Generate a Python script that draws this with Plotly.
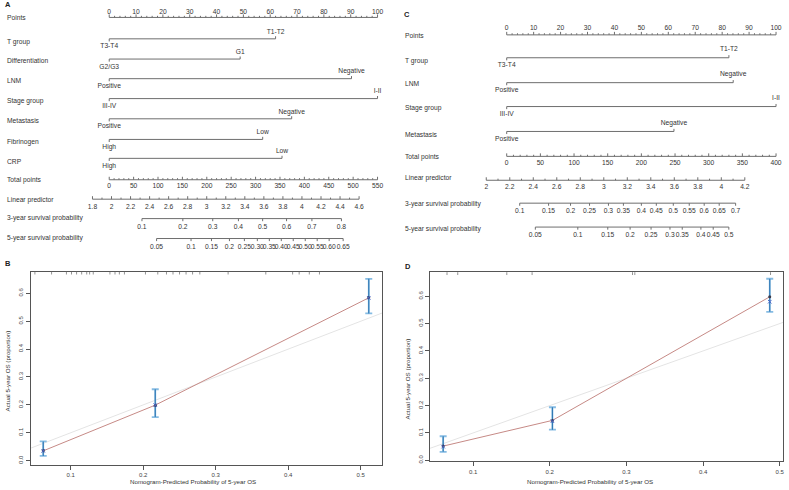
import plotly.graph_objects as go

W, H = 789, 490
FONT = "Liberation Sans, Arial, Helvetica, sans-serif"
TXT = "#333333"
LINE = "#6e6e6e"

# ---------------- data: nomogram A ----------------
A_point_ticks = list(range(0, 101, 10))
A_var_names = ["T group", "Differentiation", "LNM", "Stage group", "Metastasis", "Fibrinogen", "CRP"]
A_low_levels = ["T3-T4", "G2/G3", "Positive", "III-IV", "Positive", "High", "High"]
A_high_levels = ["T1-T2", "G1", "Negative", "I-II", "Negative", "Low", "Low"]
A_high_points = [62.0, 48.8, 90.3, 100.0, 68.0, 57.2, 64.4]
A_total_ticks = list(range(0, 551, 50))
A_lp_ticks = [1.8, 2.0, 2.2, 2.4, 2.6, 2.8, 3.0, 3.2, 3.4, 3.6, 3.8, 4.0, 4.2, 4.4, 4.6]
A_lp_labels = ["1.8", "2", "2.2", "2.4", "2.6", "2.8", "3", "3.2", "3.4", "3.6", "3.8", "4", "4.2", "4.4", "4.6"]
A_surv3_labels = ["0.1", "0.2", "0.3", "0.4", "0.5", "0.6", "0.7", "0.8"]
A_surv3_total = [67.1, 150.9, 212.2, 264.8, 314.5, 363.5, 415.5, 476.0]
A_surv5_labels = ["0.05", "0.1", "0.15", "0.2", "0.25", "0.30", "0.35", "0.40", "0.45", "0.50", "0.55", "0.60", "0.65"]
A_surv5_total = [97.1, 167.7, 209.6, 246.4, 277.0, 303.6, 328.2, 352.7, 377.2, 401.8, 426.3, 450.8, 479.5]

# ---------------- data: nomogram C ----------------
C_point_ticks = list(range(0, 101, 10))
C_var_names = ["T group", "LNM", "Stage group", "Metastasis"]
C_low_levels = ["T3-T4", "Positive", "III-IV", "Positive"]
C_high_levels = ["T1-T2", "Negative", "I-II", "Negative"]
C_high_points = [82.5, 84.1, 100.0, 62.1]
C_total_ticks = list(range(0, 401, 50))
C_lp_ticks = [2.0, 2.2, 2.4, 2.6, 2.8, 3.0, 3.2, 3.4, 3.6, 3.8, 4.0, 4.2]
C_lp_labels = ["2", "2.2", "2.4", "2.6", "2.8", "3", "3.2", "3.4", "3.6", "3.8", "4", "4.2"]
C_surv3_labels = ["0.1", "0.15", "0.2", "0.25", "0.3", "0.35", "0.4", "0.45", "0.5", "0.55", "0.6", "0.65", "0.7"]
C_surv3_total = [19.3, 62.2, 94.8, 123.0, 151.1, 173.3, 200.0, 222.2, 247.4, 271.1, 293.3, 315.6, 340.0]
C_surv5_labels = ["0.05", "0.1", "0.15", "0.2", "0.25", "0.3", "0.35", "0.4", "0.45", "0.5"]
C_surv5_total = [42.5, 105.6, 150.1, 183.3, 214.4, 242.5, 260.7, 288.4, 306.7, 329.9]

# ---------------- data: calibration B ----------------
B_pred = [0.062, 0.2165, 0.511]
B_obs = [0.035, 0.199, 0.584]
B_corr = [0.035, 0.199, 0.584]
B_lo = [0.017, 0.156, 0.528]
B_hi = [0.069, 0.256, 0.652]
B_rug = [0.0505, 0.0735, 0.094, 0.101, 0.108, 0.115, 0.122, 0.126, 0.131, 0.154, 0.161,
         0.167, 0.174, 0.203, 0.220, 0.232, 0.241, 0.250, 0.259, 0.268, 0.278, 0.317,
         0.369, 0.406, 0.415, 0.429, 0.443]

# ---------------- data: calibration D ----------------
D_pred = [0.061, 0.2035, 0.487]
D_obs = [0.052, 0.146, 0.598]
D_corr = [0.050, 0.143, 0.580]
D_lo = [0.031, 0.112, 0.543]
D_hi = [0.088, 0.194, 0.664]
D_rug = [0.066, 0.080, 0.144, 0.177, 0.308, 0.311, 0.488]

cal_xticks = [0.1, 0.2, 0.3, 0.4, 0.5]
cal_yticks = [0.0, 0.1, 0.2, 0.3, 0.4, 0.5, 0.6]


# ---------------- helpers ----------------
def xp(px):
    return px / W


def yp(py):
    return 1 - py / H


def rng(v0, p0, v1, p1, d0, d1):
    s = (v1 - v0) / (p1 - p0)
    return [v0 + (d0 - p0) * s, v0 + (d1 - p0) * s]


fig = go.Figure()
annotations = []


def segs(x0s, x1s, y0s, y1s, xa, ya, color=LINE, width=1):
    X, Y = [], []
    for a, b, c, d in zip(x0s, x1s, y0s, y1s):
        X += [a, b, None]
        Y += [c, d, None]
    fig.add_trace(go.Scatter(x=X, y=Y, mode="lines", xaxis=xa, yaxis=ya,
                             line=dict(color=color, width=width),
                             hoverinfo="skip", showlegend=False, cliponaxis=False))


def texts(xs, ys, tx, xa, ya, size=6.7, color=TXT, pos="middle center"):
    fig.add_trace(go.Scatter(x=xs, y=ys, text=tx, mode="text", textposition=pos,
                             textfont=dict(family=FONT, size=size, color=color),
                             xaxis=xa, yaxis=ya, hoverinfo="skip", showlegend=False,
                             cliponaxis=False))


def label(px, py, t, size=6.7, bold=False, angle=0, anchor="left"):
    annotations.append(dict(x=xp(px), y=yp(py), xref="paper", yref="paper", text=t,
                            showarrow=False, xanchor=anchor, yanchor="middle",
                            textangle=angle,
                            font=dict(family=FONT, size=size, color="#222222" if bold else TXT)))


def scale_axis(vals, minors, y, lab, lab_y, xa, ya, tick_dir, major_len=3.0, minor_len=1.6):
    lo, hi = min(vals + minors), max(vals + minors)
    segs([lo], [hi], [y], [y], xa, ya)
    segs(vals, vals, [y] * len(vals), [y + tick_dir * major_len] * len(vals), xa, ya)
    if minors:
        segs(minors, minors, [y] * len(minors), [y + tick_dir * minor_len] * len(minors), xa, ya)
    texts(vals, [lab_y] * len(vals), lab, xa, ya)


def nomogram(cfg):
    xa_p, xa_t, xa_l, ya = cfg["axes"]
    # Points
    pts = cfg["point_ticks"]
    minors = [v for v in range(0, 101, 2) if v % 10]
    scale_axis(pts, minors, cfg["points_y"], [str(v) for v in pts], cfg["points_lab_y"], xa_p, ya, -1)
    label(cfg["lab_x"], cfg["points_row_lab"], "Points")
    # variables
    for name, lo, hi, hp, ry, rl in zip(cfg["names"], cfg["low"], cfg["high"], cfg["hp"],
                                         cfg["rows"], cfg["row_labs"]):
        segs([0], [hp], [ry], [ry], xa_p, ya)
        segs([0, hp], [0, hp], [ry, ry], [ry + 2.6, ry - 2.6], xa_p, ya)
        texts([0], [ry + cfg["below"]], [lo], xa_p, ya)
        texts([hp], [ry - cfg["above"]], [hi], xa_p, ya)
        label(cfg["lab_x"], rl, name)
    # Total points
    tt = cfg["total_ticks"]
    step = tt[1] - tt[0]
    tmin = [v for v in range(tt[0], tt[-1] + 1, step // 5) if v % step]
    scale_axis(tt, tmin, cfg["total_y"], [str(v) for v in tt], cfg["total_lab_y"], xa_t, ya, -1)
    label(cfg["lab_x"], cfg["total_row_lab"], "Total points")
    # Linear predictor
    lp = cfg["lp_ticks"]
    lpm = [round((a + b) / 2, 3) for a, b in zip(lp[:-1], lp[1:])]
    scale_axis(lp, lpm, cfg["lp_y"], cfg["lp_labels"], cfg["lp_lab_y"], xa_l, ya, -1)
    label(cfg["lab_x"], cfg["lp_row_lab"], "Linear predictor")
    # survival axes
    scale_axis(cfg["s3_total"], [], cfg["s3_y"], cfg["s3_labels"], cfg["s3_lab_y"], xa_t, ya, 1, 2.6)
    label(cfg["lab_x"], cfg["s3_row_lab"], "3-year survival probability")
    scale_axis(cfg["s5_total"], [], cfg["s5_y"], cfg["s5_labels"], cfg["s5_lab_y"], xa_t, ya, 1, 2.6)
    label(cfg["lab_x"], cfg["s5_row_lab"], "5-year survival probability")


nomogram(dict(
    axes=("x3", "x5", "x6", "y3"), lab_x=5,
    point_ticks=A_point_ticks, points_y=17.5, points_lab_y=12, points_row_lab=18,
    names=A_var_names, low=A_low_levels, high=A_high_levels, hp=A_high_points,
    rows=[39, 59.3, 79, 99, 119.3, 140, 159], row_labs=[42, 61, 81, 101, 121, 143, 162],
    below=8, above=7,
    total_ticks=A_total_ticks, total_y=180.5, total_lab_y=187, total_row_lab=181,
    lp_ticks=A_lp_ticks, lp_labels=A_lp_labels, lp_y=200, lp_lab_y=208, lp_row_lab=201,
    s3_total=A_surv3_total, s3_labels=A_surv3_labels, s3_y=219.5, s3_lab_y=228, s3_row_lab=219,
    s5_total=A_surv5_total, s5_labels=A_surv5_labels, s5_y=239.5, s5_lab_y=248, s5_row_lab=239,
))

nomogram(dict(
    axes=("x4", "x7", "x8", "y4"), lab_x=404,
    point_ticks=C_point_ticks, points_y=35, points_lab_y=28.5, points_row_lab=36,
    names=C_var_names, low=C_low_levels, high=C_high_levels, hp=C_high_points,
    rows=[58, 83, 107, 132], row_labs=[61, 84, 108, 135],
    below=7.5, above=8,
    total_ticks=C_total_ticks, total_y=157, total_lab_y=164, total_row_lab=158,
    lp_ticks=C_lp_ticks, lp_labels=C_lp_labels, lp_y=181, lp_lab_y=188, lp_row_lab=179,
    s3_total=C_surv3_total, s3_labels=C_surv3_labels, s3_y=204, s3_lab_y=212, s3_row_lab=205,
    s5_total=C_surv5_total, s5_labels=C_surv5_labels, s5_y=228, s5_lab_y=236, s5_row_lab=230,
))


# ---------------- calibration plots ----------------
shapes = []


def calibration(pred, obs, corr, lo, hi, rug, xa, ya):
    fig.add_trace(go.Scatter(x=[0, 1], y=[0, 1], mode="lines", xaxis=xa, yaxis=ya,
                             line=dict(color="#e4e4e4", width=1), hoverinfo="skip", showlegend=False))
    fig.add_trace(go.Scatter(x=pred, y=obs, mode="lines", xaxis=xa, yaxis=ya,
                             line=dict(color="#c68a86", width=1), hoverinfo="skip", showlegend=False))
    up = [h - o for h, o in zip(hi, obs)]
    dn = [o - l for o, l in zip(obs, lo)]
    fig.add_trace(go.Scatter(x=pred, y=obs, mode="markers", xaxis=xa, yaxis=ya,
                             marker=dict(size=1, color="rgba(0,0,0,0)"),
                             error_y=dict(type="data", symmetric=False, array=up, arrayminus=dn,
                                          color="#86bce3", thickness=1.8, width=3.5),
                             hoverinfo="skip", showlegend=False))
    fig.add_trace(go.Scatter(x=pred, y=obs, mode="markers", xaxis=xa, yaxis=ya,
                             marker=dict(size=1, color="rgba(0,0,0,0)"),
                             error_y=dict(type="data", symmetric=False, array=up, arrayminus=dn,
                                          color="#2f77b3", thickness=1.1, width=0),
                             hoverinfo="skip", showlegend=False))
    fig.add_trace(go.Scatter(x=pred, y=obs, mode="markers", xaxis=xa, yaxis=ya,
                             marker=dict(size=3, color="#3a3a4a"), hoverinfo="skip", showlegend=False))
    fig.add_trace(go.Scatter(x=pred, y=corr, mode="markers", xaxis=xa, yaxis=ya,
                             marker=dict(size=3.5, symbol="x-thin-open", color="#4a66c8",
                                         line=dict(width=1, color="#4a66c8")),
                             hoverinfo="skip", showlegend=False))
    for r in rug:
        shapes.append(dict(type="line", xref=xa, yref=ya + " domain", x0=r, x1=r, y0=1, y1=0.985,
                           line=dict(color="#666666", width=0.7)))


calibration(B_pred, B_obs, B_corr, B_lo, B_hi, B_rug, "x", "y")
calibration(D_pred, D_obs, D_corr, D_lo, D_hi, D_rug, "x2", "y2")

# panel letters
label(3, 5, "<b>A</b>", size=7.5, bold=True)
label(403, 15, "<b>C</b>", size=7.5, bold=True)
label(3, 265, "<b>B</b>", size=7.5, bold=True)
label(404, 268, "<b>D</b>", size=7.5, bold=True)

# calibration axis titles
label(193.5, 483.3, "Nomogram-Predicted Probability of 5-year OS", size=6.2, anchor="center")
label(7, 372, "Actual 5-year OS (proportion)", size=6.2, angle=-90, anchor="center")
label(591, 483.3, "Nomogram-Predicted Probability of 5-year OS", size=6.2, anchor="center")
label(408, 380, "Actual 5-year OS (proportion)", size=6.2, angle=-90, anchor="center")

cal_axis_common = dict(showline=True, mirror=True, linecolor="#555555", linewidth=1,
                       ticks="outside", ticklen=4, tickcolor="#555555", tickwidth=1,
                       showgrid=False, zeroline=False, fixedrange=True,
                       tickfont=dict(family=FONT, size=6, color="#444444"))

hidden = dict(visible=False, showgrid=False, zeroline=False, fixedrange=True)

fig.update_layout(
    width=W, height=H, margin=dict(l=0, r=0, t=0, b=0),
    paper_bgcolor="white", plot_bgcolor="rgba(0,0,0,0)", showlegend=False,
    annotations=annotations, shapes=shapes,
    xaxis=dict(domain=[xp(30.7), xp(383)], range=[0.0446, 0.5293], anchor="y",
               tickvals=cal_xticks, ticktext=[f"{v:.1f}" for v in cal_xticks], **cal_axis_common),
    yaxis=dict(domain=[yp(466.7), yp(272.7)], range=[-0.015, 0.678], anchor="x",
               tickvals=cal_yticks, ticktext=[f"{v:.1f}" for v in cal_yticks], tickangle=-90,
               **cal_axis_common),
    xaxis2=dict(domain=[xp(431), xp(785)], range=[0.0437, 0.5043], anchor="y2",
                tickvals=cal_xticks, ticktext=[f"{v:.1f}" for v in cal_xticks], **cal_axis_common),
    yaxis2=dict(domain=[yp(463.3), yp(273.3)], range=[-0.004, 0.688], anchor="x2",
                tickvals=cal_yticks, ticktext=[f"{v:.1f}" for v in cal_yticks], tickangle=-90,
                **cal_axis_common),
    xaxis3=dict(domain=[0, xp(390)], range=rng(0, 109.5, 100, 378.5, 0, 390), anchor="y3", **hidden),
    yaxis3=dict(domain=[yp(255), 1], range=[255, 0], anchor="x3", **hidden),
    xaxis5=dict(domain=[0, xp(390)], range=rng(0, 109.5, 550, 378.5, 0, 390), anchor="y3",
                overlaying="x3", **hidden),
    xaxis6=dict(domain=[0, xp(390)], range=rng(1.8, 92.7, 4.6, 360, 0, 390), anchor="y3",
                overlaying="x3", **hidden),
    xaxis4=dict(domain=[xp(390), 1], range=rng(0, 508, 100, 778, 390, 789), anchor="y4", **hidden),
    yaxis4=dict(domain=[yp(250), 1], range=[250, 0], anchor="x4", **hidden),
    xaxis7=dict(domain=[xp(390), 1], range=rng(0, 508, 400, 778, 390, 789), anchor="y4",
                overlaying="x4", **hidden),
    xaxis8=dict(domain=[xp(390), 1], range=rng(2, 487.5, 4.2, 746.7, 390, 789), anchor="y4",
                overlaying="x4", **hidden),
)

fig.write_html("out.html", config={"displayModeBar": False},
               post_script="document.body.style.margin='0';document.body.style.padding='0';document.body.style.overflow='hidden';")
